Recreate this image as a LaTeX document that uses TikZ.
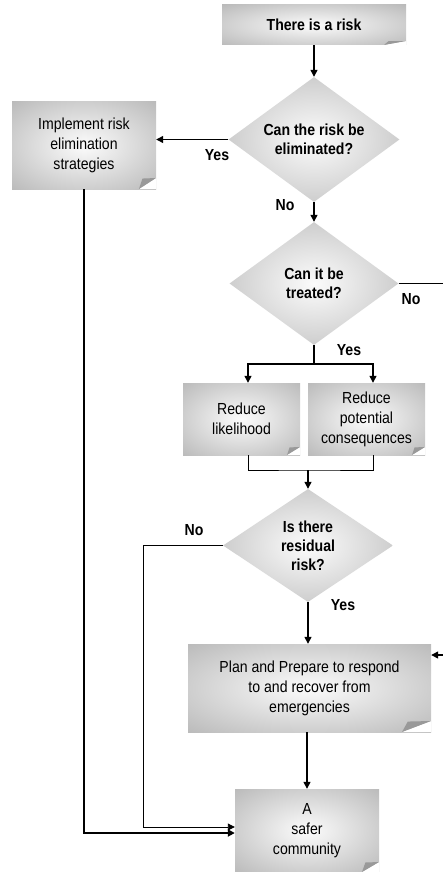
\documentclass[tikz,border=0pt]{standalone}
\usepackage{fontspec}
\setmainfont{Liberation Sans}[FakeStretch=0.88]
\usetikzlibrary{arrows.meta,shapes.geometric}
\pgfdeclareradialshading{softgray}{\pgfpoint{0bp}{0bp}}{color(0bp)=(gray!3); color(8bp)=(gray!14); color(44bp)=(gray!66); color(72bp)=(gray!70)}
\tikzset{
gbox/.style={rectangle, shade, shading=softgray, inner sep=0pt, align=center, font=\fontsize{16}{20}\selectfont},
dbox/.style={diamond, shade, shading=softgray, inner sep=0pt, shape aspect=1.4, align=center, font=\fontsize{16}{19}\selectfont\bfseries},
fold/.style 2 args={path picture={
\fill[white] ([xshift=-#1]path picture bounding box.south east) -- (path picture bounding box.south east) -- ([yshift=#2]path picture bounding box.south east) -- cycle;
\fill[gray!80] ([xshift=-#1]path picture bounding box.south east) -- ([yshift=#2]path picture bounding box.south east) -- ([xshift=-0.8*#1,yshift=0.95*#2]path picture bounding box.south east) -- cycle;}},
lbl/.style={inner sep=0pt, font=\fontsize{16}{19}\selectfont\bfseries},
arr/.style={line width=1.3pt, -{Triangle[length=7pt,width=7pt]}}
}
\begin{document}
\begin{tikzpicture}[x=1pt, y=-1pt]
\useasboundingbox (0,0) rectangle (443,872);
\node[gbox, font=\fontsize{16}{20}\selectfont\bfseries, minimum width=184pt, minimum height=40pt, fold={22pt}{4pt}] (risk) at (314,25) {There is a risk};
\node[dbox, minimum width=171pt, minimum height=125pt] (d1) at (314,139.5) {Can the risk be\\eliminated?};
\node[gbox, minimum width=144pt, minimum height=87pt, fold={17pt}{11pt}] (elim) at (84,145.5) {Implement risk\\elimination\\strategies};
\node[dbox, minimum width=169pt, minimum height=123pt] (d2) at (314,283.5) {Can it be\\treated?};
\node[gbox, minimum width=117pt, minimum height=72pt, fold={13pt}{8pt}] (likeli) at (241.5,419) {Reduce\\likelihood};
\node[gbox, minimum width=117pt, minimum height=72pt, fold={13pt}{8pt}] (conseq) at (366.5,419) {Reduce\\potential\\consequences};
\node[dbox, minimum width=170pt, minimum height=113pt] (d3) at (308,545.5) {Is there\\residual\\risk?};
\node[gbox, minimum width=243pt, minimum height=88pt, fold={29pt}{11pt}] (plan) at (309.5,688) {Plan and Prepare to respond\\to and recover from\\emergencies};
\node[gbox, minimum width=144pt, minimum height=83pt, fold={17pt}{10pt}] (safer) at (307,830.5) {A\\safer\\community};
% branch labels
\node[lbl] (yes1) at (217,155) {Yes};
\node[lbl] (no1) at (285,205) {No};
\node[lbl] (no2) at (411,299) {No};
\node[lbl] (yes2) at (349,350) {Yes};
\node[lbl] (no3) at (194,530) {No};
\node[lbl] (yes3) at (343,605) {Yes};
% connectors
\coordinate (offR) at (443,283.5);
\coordinate (split) at (314,364);
\coordinate (merge) at (308,470);
\coordinate (noturn) at (143,546);
\coordinate (backin) at (443,655);
\draw[arr] (risk.south) -- (d1.north);
\draw[arr] (d1.west) -- (elim.east |- d1.west);
\draw[arr] (d1.south) -- (d2.north);
\draw[line width=1.3pt] (d2.east) -- (offR);
\draw[arr] (d2.south) -- (split) -| ([xshift=6.5pt]likeli.north);
\draw[arr] (split) -| ([xshift=6.5pt]conseq.north);
\draw[line width=0.9pt] ([xshift=6.5pt]likeli.south) |- (merge) -| ([xshift=6.5pt]conseq.south);
\draw[arr] (merge) -- (d3.north);
\draw[arr] (d3.south) -- (d3.south |- plan.north);
\draw[arr] (backin) -- (plan.east |- backin);
\draw[arr] (safer.north |- plan.south) -- (safer.north);
\draw[arr, line width=0.9pt] (d3.west) -- (noturn |- d3.west) |- ([yshift=3.5pt]safer.west);
\draw[arr, line width=2pt] (elim.south) |- ([yshift=-2.5pt]safer.west);
\end{tikzpicture}
\end{document}
